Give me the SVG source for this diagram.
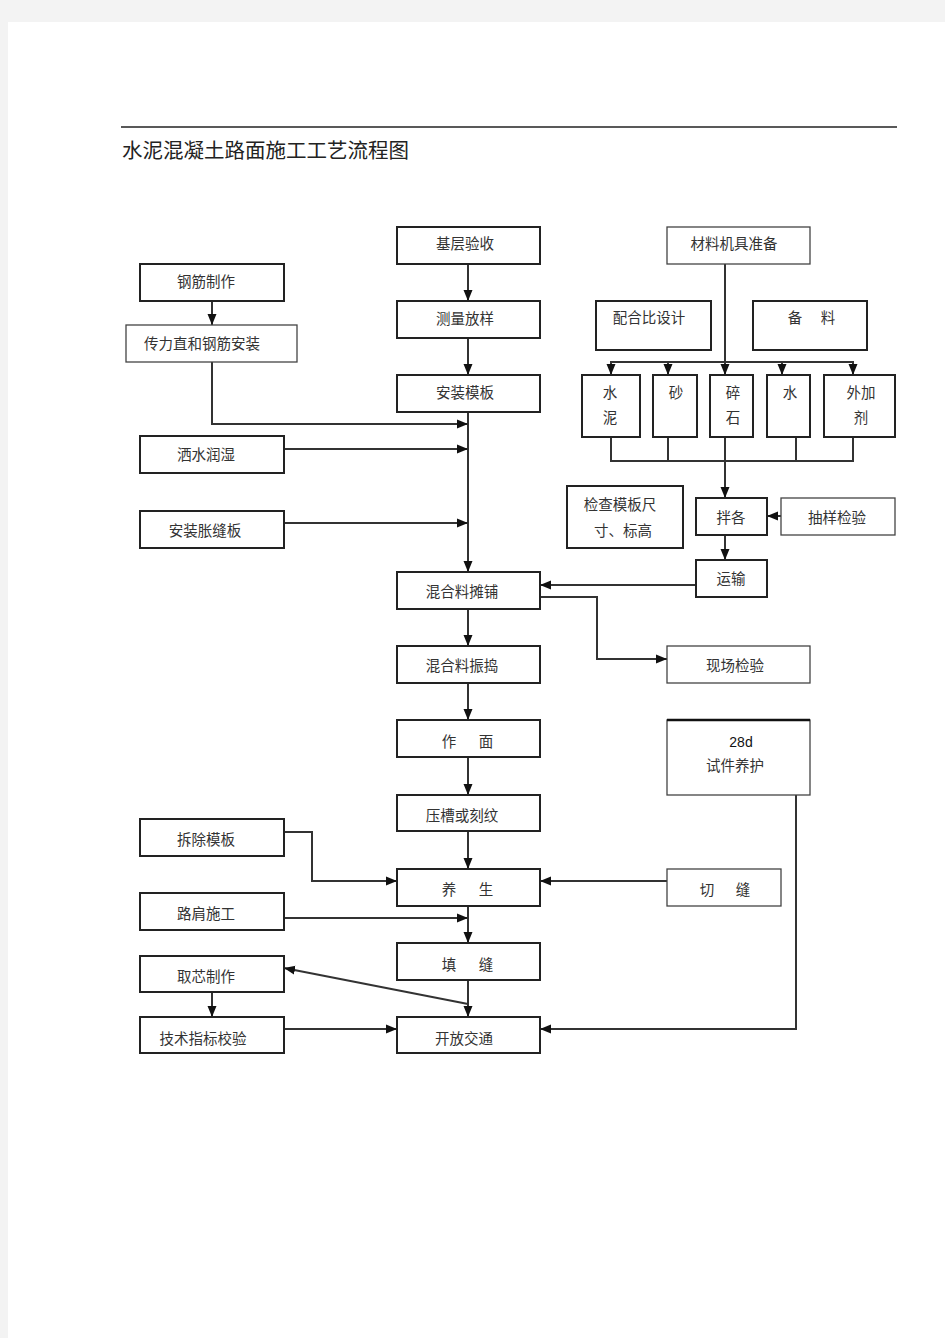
<svg xmlns="http://www.w3.org/2000/svg" width="945" height="1338" viewBox="0 0 945 1338">
<style>
.bx{fill:#fff;stroke:#222;stroke-width:2}
.bt{fill:#fff;stroke:#444;stroke-width:1.3}
.t{font-family:"Noto Sans CJK SC","Noto Sans CJK TC",sans-serif;font-size:14.5px;fill:#333;text-anchor:middle;dominant-baseline:central}
.c{fill:none;stroke:#333;stroke-width:2}
.ttl{font-family:"Noto Sans CJK SC",sans-serif;font-size:20.5px;fill:#222}
</style>
<defs>
<marker id="a" markerUnits="userSpaceOnUse" markerWidth="12" markerHeight="12" viewBox="0 0 12 12" refX="11" refY="6" orient="auto">
<path d="M0,1.5 L11,6 L0,10.5 Z" fill="#111"/>
</marker>
</defs>
<rect x="0" y="0" width="945" height="1338" fill="#f3f3f3"/>
<rect x="8" y="22" width="937" height="1316" fill="#fff"/>
<line x1="121" y1="127" x2="897" y2="127" stroke="#222" stroke-width="1.3"/>
<text class="ttl" x="122" y="158">水泥混凝土路面施工工艺流程图</text>

<g id="connectors">
<line class="c" x1="468" y1="264" x2="468" y2="301" marker-end="url(#a)"/>
<line class="c" x1="468" y1="338" x2="468" y2="375" marker-end="url(#a)"/>
<line class="c" x1="468" y1="412" x2="468" y2="572" marker-end="url(#a)"/>
<line class="c" x1="212" y1="301" x2="212" y2="325" marker-end="url(#a)"/>
<polyline class="c" points="212,362 212,424 468,424" marker-end="url(#a)"/>
<line class="c" x1="284" y1="449" x2="468" y2="449" marker-end="url(#a)"/>
<line class="c" x1="284" y1="523" x2="468" y2="523" marker-end="url(#a)"/>
<line class="c" x1="725" y1="264" x2="725" y2="375" marker-end="url(#a)"/>
<line class="c" x1="611" y1="362" x2="853" y2="362"/>
<line class="c" x1="611" y1="361" x2="611" y2="375" marker-end="url(#a)"/>
<line class="c" x1="668" y1="361" x2="668" y2="375" marker-end="url(#a)"/>
<line class="c" x1="782" y1="361" x2="782" y2="375" marker-end="url(#a)"/>
<line class="c" x1="853" y1="361" x2="853" y2="375" marker-end="url(#a)"/>
<polyline class="c" points="611,437 611,461 853,461 853,437"/>
<line class="c" x1="668" y1="437" x2="668" y2="461"/>
<line class="c" x1="796" y1="437" x2="796" y2="461"/>
<line class="c" x1="725" y1="437" x2="725" y2="498" marker-end="url(#a)"/>
<line class="c" x1="781" y1="516" x2="767" y2="516" marker-end="url(#a)"/>
<line class="c" x1="725" y1="535" x2="725" y2="560" marker-end="url(#a)"/>
<line class="c" x1="696" y1="585" x2="540" y2="585" marker-end="url(#a)"/>
<polyline class="c" points="540,597 597,597 597,659 667,659" marker-end="url(#a)"/>
<line class="c" x1="468" y1="609" x2="468" y2="646" marker-end="url(#a)"/>
<line class="c" x1="468" y1="683" x2="468" y2="720" marker-end="url(#a)"/>
<line class="c" x1="468" y1="757" x2="468" y2="795" marker-end="url(#a)"/>
<line class="c" x1="468" y1="831" x2="468" y2="869" marker-end="url(#a)"/>
<polyline class="c" points="284,832 312,832 312,881 397,881" marker-end="url(#a)"/>
<line class="c" x1="667" y1="881" x2="540" y2="881" marker-end="url(#a)"/>
<line class="c" x1="468" y1="906" x2="468" y2="943" marker-end="url(#a)"/>
<line class="c" x1="284" y1="918" x2="468" y2="918" marker-end="url(#a)"/>
<line class="c" x1="468" y1="980" x2="468" y2="1017" marker-end="url(#a)"/>
<line class="c" x1="468" y1="1004" x2="284" y2="968" marker-end="url(#a)"/>
<line class="c" x1="212" y1="992" x2="212" y2="1017" marker-end="url(#a)"/>
<line class="c" x1="284" y1="1029" x2="397" y2="1029" marker-end="url(#a)"/>
<polyline class="c" points="796,795 796,1029 540,1029" marker-end="url(#a)"/>
</g>

<g id="n-jcys"><rect class="bx" x="397" y="227" width="143" height="37"/><text class="t" x="465" y="242">基层验收</text></g>
<g id="n-clfy"><rect class="bx" x="397" y="301" width="143" height="37"/><text class="t" x="465" y="317">测量放样</text></g>
<g id="n-azmb"><rect class="bx" x="397" y="375" width="143" height="37"/><text class="t" x="465" y="391">安装模板</text></g>
<g id="n-gjzz"><rect class="bx" x="140" y="264" width="144" height="37"/><text class="t" x="206" y="280">钢筋制作</text></g>
<g id="n-clz"><rect class="bt" x="126" y="325" width="171" height="37"/><text class="t" x="202" y="342">传力直和钢筋安装</text></g>
<g id="n-ssrs"><rect class="bx" x="140" y="436" width="144" height="37"/><text class="t" x="206" y="453">洒水润湿</text></g>
<g id="n-azzfb"><rect class="bx" x="140" y="511" width="144" height="37"/><text class="t" x="205" y="529">安装胀缝板</text></g>
<g id="n-hltp"><rect class="bx" x="397" y="572" width="143" height="37"/><text class="t" x="462" y="590">混合料摊铺</text></g>
<g id="n-hlzd"><rect class="bx" x="397" y="646" width="143" height="37"/><text class="t" x="462" y="664">混合料振捣</text></g>
<g id="n-zm"><rect class="bx" x="397" y="720" width="143" height="37"/><text class="t" x="449" y="740">作</text><text class="t" x="486" y="740">面</text></g>
<g id="n-ycw"><rect class="bx" x="397" y="795" width="143" height="36"/><text class="t" x="462" y="814">压槽或刻纹</text></g>
<g id="n-ys"><rect class="bx" x="397" y="869" width="143" height="37"/><text class="t" x="449" y="888">养</text><text class="t" x="486" y="888">生</text></g>
<g id="n-tf"><rect class="bx" x="397" y="943" width="143" height="37"/><text class="t" x="449" y="963">填</text><text class="t" x="486" y="963">缝</text></g>
<g id="n-kfjt"><rect class="bx" x="397" y="1017" width="143" height="36"/><text class="t" x="464" y="1037">开放交通</text></g>
<g id="n-ccmb"><rect class="bx" x="140" y="819" width="144" height="37"/><text class="t" x="206" y="838">拆除模板</text></g>
<g id="n-ljsg"><rect class="bx" x="140" y="893" width="144" height="37"/><text class="t" x="206" y="912">路肩施工</text></g>
<g id="n-qxzz"><rect class="bx" x="140" y="956" width="144" height="36"/><text class="t" x="206" y="975">取芯制作</text></g>
<g id="n-jszb"><rect class="bx" x="140" y="1017" width="144" height="36"/><text class="t" x="203" y="1037">技术指标校验</text></g>
<g id="n-cljj"><rect class="bt" x="667" y="227" width="143" height="37"/><text class="t" x="734" y="242">材料机具准备</text></g>
<g id="n-phb"><rect class="bx" x="596" y="301" width="115" height="49"/><text class="t" x="649" y="316">配合比设计</text></g>
<g id="n-bl"><rect class="bx" x="753" y="301" width="114" height="49"/><text class="t" x="795" y="316">备</text><text class="t" x="828" y="316">料</text></g>
<g id="n-sn"><rect class="bx" x="582" y="375" width="58" height="62"/><text class="t" x="610" y="391">水</text><text class="t" x="610" y="416">泥</text></g>
<g id="n-sha"><rect class="bx" x="653" y="375" width="44" height="62"/><text class="t" x="676" y="391">砂</text></g>
<g id="n-ss"><rect class="bx" x="710" y="375" width="43" height="62"/><text class="t" x="733" y="391">碎</text><text class="t" x="733" y="416">石</text></g>
<g id="n-shui"><rect class="bx" x="767" y="375" width="43" height="62"/><text class="t" x="790" y="391">水</text></g>
<g id="n-wjj"><rect class="bx" x="824" y="375" width="71" height="62"/><text class="t" x="861" y="391">外加</text><text class="t" x="861" y="416">剂</text></g>
<g id="n-jcmb"><rect class="bx" x="567" y="486" width="116" height="62"/><text class="t" x="620" y="503">检查模板尺</text><text class="t" x="623" y="529">寸、标高</text></g>
<g id="n-bg"><rect class="bx" x="696" y="498" width="71" height="37"/><text class="t" x="731" y="516">拌各</text></g>
<g id="n-cyjy"><rect class="bt" x="781" y="498" width="114" height="37"/><text class="t" x="837" y="516">抽样检验</text></g>
<g id="n-ys2"><rect class="bx" x="696" y="560" width="71" height="37"/><text class="t" x="731" y="577">运输</text></g>
<g id="n-xcjy"><rect class="bt" x="667" y="646" width="143" height="37"/><text class="t" x="735" y="664">现场检验</text></g>
<g id="n-28d"><rect class="bt" x="667" y="720" width="143" height="75"/><line x1="667" y1="720" x2="810" y2="720" stroke="#111" stroke-width="2.5"/><text x="741" y="742" style="font-family:'Liberation Sans',Arial,sans-serif;font-size:14px;fill:#111;text-anchor:middle;dominant-baseline:central">28d</text><text class="t" x="735" y="764">试件养护</text></g>
<g id="n-qf"><rect class="bt" x="667" y="869" width="114" height="37"/><text class="t" x="707" y="888">切</text><text class="t" x="743" y="888">缝</text></g>
</svg>
